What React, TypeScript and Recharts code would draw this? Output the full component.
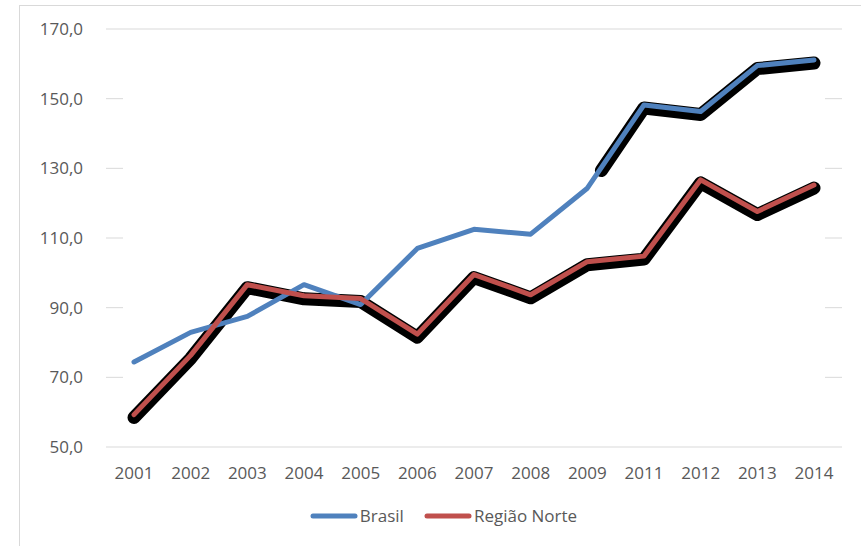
import React from 'react';
import { LineChart, Line, XAxis, YAxis, CartesianGrid, Legend } from 'recharts';

const years = ['2001', '2002', '2003', '2004', '2005', '2006', '2007', '2008', '2009', '2011', '2012', '2013', '2014'];
const brasil = [74.4, 82.9, 87.5, 96.6, 90.9, 107.0, 112.5, 111.1, 124.3, 148.2, 146.3, 159.5, 161.1];
const regiaoNorte = [59.3, 76.3, 96.6, 93.4, 92.6, 82.4, 99.5, 93.7, 103.2, 104.8, 126.7, 117.6, 125.2];
const yTicks = [50, 70, 90, 110, 130, 150, 170];
const brasilShadowStartIndex = 8;

const data = years.map((year, i) => ({
  year,
  brasil: brasil[i],
  norte: regiaoNorte[i],
  brasilShadow: i >= brasilShadowStartIndex ? brasil[i] : null,
}));

const FONT = "'Open Sans', 'Liberation Sans', sans-serif";
const TEXT = '#595959';
const GRID = '#D9D9D9';
const BLUE = '#4F81BD';
const RED = '#C0504D';
const FS = 17;

const gridLine = (p: any) => {
  const top = p.y;
  const bottom = p.y + p.height;
  const full = Math.abs(p.y1 - top) < 1 || Math.abs(p.y1 - bottom) < 1;
  if (full) {
    return <line key={p.key} x1={p.x1} x2={p.x2} y1={p.y1} y2={p.y2} stroke={GRID} strokeWidth={1} />;
  }
  return (
    <g key={p.key}>
      <line x1={p.x1} x2={p.x1 + 17} y1={p.y1} y2={p.y2} stroke={GRID} strokeWidth={1} />
      <line x1={p.x2 - 17} x2={p.x2} y1={p.y1} y2={p.y2} stroke={GRID} strokeWidth={1} />
    </g>
  );
};

const renderLegend = (props: any) => {
  const items = (props.payload || []).filter((e: any) => e.type !== 'none');
  return (
    <div
      style={{
        height: 45,
        boxSizing: 'border-box',
        paddingTop: 5,
        paddingLeft: 45,
        display: 'flex',
        justifyContent: 'center',
        alignItems: 'flex-start',
        fontFamily: FONT,
        fontSize: FS,
        color: TEXT,
      }}
    >
      {items.map((e: any, i: number) => (
        <div key={i} style={{ display: 'flex', alignItems: 'center', height: 20, marginLeft: i === 0 ? 0 : 20 }}>
          <svg width={48} height={8} style={{ marginRight: 2 }}>
            <line x1={3} x2={45} y1={4} y2={4} stroke={e.color} strokeWidth={5} strokeLinecap="round" />
          </svg>
          <span style={{ lineHeight: '20px' }}>{e.value}</span>
        </div>
      ))}
    </div>
  );
};

export default function App() {
  return (
    <div style={{ position: 'absolute', left: 0, top: 0, width: 861, height: 546, background: '#fff' }}>
      <style>{`.shadow-line .recharts-curve { transform: translate(0px, 3px); }`}</style>
      <div
        style={{
          position: 'absolute',
          left: 19,
          top: 5,
          right: 0,
          bottom: 0,
          borderLeft: `1px solid ${GRID}`,
          borderTop: `1px solid ${GRID}`,
        }}
      />
      <div style={{ position: 'absolute', left: 0, top: 0 }}>
        <LineChart width={861} height={546} data={data} margin={{ top: 29, right: 19, left: 0, bottom: 0 }}>
          <CartesianGrid vertical={false} horizontal={gridLine} />
          <XAxis
            dataKey="year"
            padding={{ left: 28, right: 28 }}
            axisLine={false}
            tickLine={false}
            tickSize={0}
            tickMargin={20}
            height={54}
            interval={0}
            tick={{ fill: TEXT, fontSize: FS, fontFamily: FONT }}
          />
          <YAxis
            domain={[50, 170]}
            ticks={yTicks}
            axisLine={false}
            tickLine={false}
            tickSize={0}
            tickMargin={23}
            width={106}
            interval={0}
            tickFormatter={(v: number) => v.toFixed(1).replace('.', ',')}
            tick={{ fill: TEXT, fontSize: FS, fontFamily: FONT }}
          />
          <Legend verticalAlign="bottom" content={renderLegend} />
          <Line
            className="shadow-line"
            dataKey="norte"
            stroke="#000"
            strokeWidth={13}
            strokeLinecap="round"
            strokeLinejoin="round"
            dot={false}
            activeDot={false}
            legendType="none"
            isAnimationActive={false}
          />
          <Line
            className="shadow-line"
            dataKey="brasilShadow"
            stroke="#000"
            strokeWidth={13}
            strokeLinecap="round"
            strokeLinejoin="round"
            strokeDasharray="3000 25"
            strokeDashoffset={3000}
            dot={false}
            activeDot={false}
            legendType="none"
            connectNulls={false}
            isAnimationActive={false}
          />
          <Line
            name="Brasil"
            dataKey="brasil"
            stroke={BLUE}
            strokeWidth={5}
            strokeLinecap="round"
            strokeLinejoin="round"
            dot={false}
            activeDot={false}
            isAnimationActive={false}
          />
          <Line
            name="Região Norte"
            dataKey="norte"
            stroke={RED}
            strokeWidth={5}
            strokeLinecap="round"
            strokeLinejoin="round"
            dot={false}
            activeDot={false}
            isAnimationActive={false}
          />
        </LineChart>
      </div>
    </div>
  );
}
